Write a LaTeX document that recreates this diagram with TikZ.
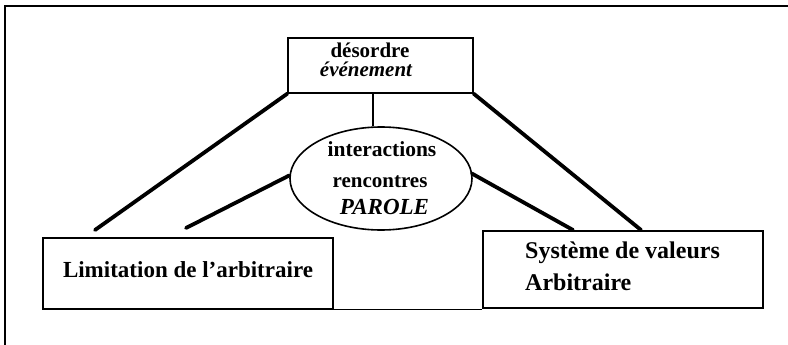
\documentclass[tikz,border=0pt]{standalone}
\usepackage{fontspec}
\setmainfont{Liberation Serif}
\usetikzlibrary{shapes.geometric}
\tikzset{
  boxnode/.style={draw, line width=1.4pt, inner sep=0pt},
  thickline/.style={line width=3.8pt, line cap=round},
  thinline/.style={line width=1.4pt},
  lbl/.style={inner sep=0pt, anchor=base, font=\bfseries\fontsize{21}{19}\selectfont},
}
\begin{document}
\begin{tikzpicture}[x=1pt,y=-1pt]
\useasboundingbox (0,0) rectangle (788,345);
% outer frame (cropped)
\draw[line width=1.6pt] (5,345) -- (5,6) -- (788,6);
% boxes
\node[boxnode, minimum width=185pt, minimum height=55pt] (top) at (380.5,65.5) {};
\node[boxnode, minimum width=290pt, minimum height=71pt] (L) at (188,273.5) {};
\node[boxnode, minimum width=280pt, minimum height=77pt] (R) at (623,269.5) {};
\node[draw, ellipse, line width=1.6pt, minimum width=182pt, minimum height=103pt, inner sep=0pt] (E) at (381,178.5) {};
% texts
\node[lbl] (t1) at (370,58) {désordre};
\node[lbl, font=\bfseries\itshape\fontsize{21}{19}\selectfont] (t2) at (366,77) {événement};
\node[lbl, font=\bfseries\fontsize{21.5}{19}\selectfont] (e1) at (382,157) {interactions};
\node[lbl, font=\bfseries\fontsize{21}{19}\selectfont] (e2) at (380,187) {rencontres};
\node[lbl, font=\bfseries\itshape\fontsize{23}{19}\selectfont] (e3) at (384.5,214) {PAROLE};
\node[lbl, font=\bfseries\fontsize{23}{24}\selectfont] (lt) at (188,277) {Limitation de l'arbitraire};
\node[inner sep=0pt, anchor=base west, font=\bfseries\fontsize{24}{24}\selectfont] (r1) at (525,258) {Système de valeurs};
\node[inner sep=0pt, anchor=base west, font=\bfseries\fontsize{24}{24}\selectfont] (r2) at (525,290) {Arbitraire};
% free ends
\coordinate (a1) at (95,230);
\coordinate (a2) at (186,228);
\coordinate (a3) at (573,230);
\coordinate (a4) at (641,230);
% connectors
\draw[thinline] (top.south -| 373,0) -- (E.north -| 373,0);
\draw[thickline] (top.south west) -- (a1);
\draw[thickline] (E.west) ++(0,-3) -- (a2);
\draw[thickline] (E.east) ++(-1,-5) -- (a3);
\draw[thickline] (top.south east) -- (a4);
\draw[thinline] (L.south east) -- (L.south east -| R.west);
\end{tikzpicture}
\end{document}
